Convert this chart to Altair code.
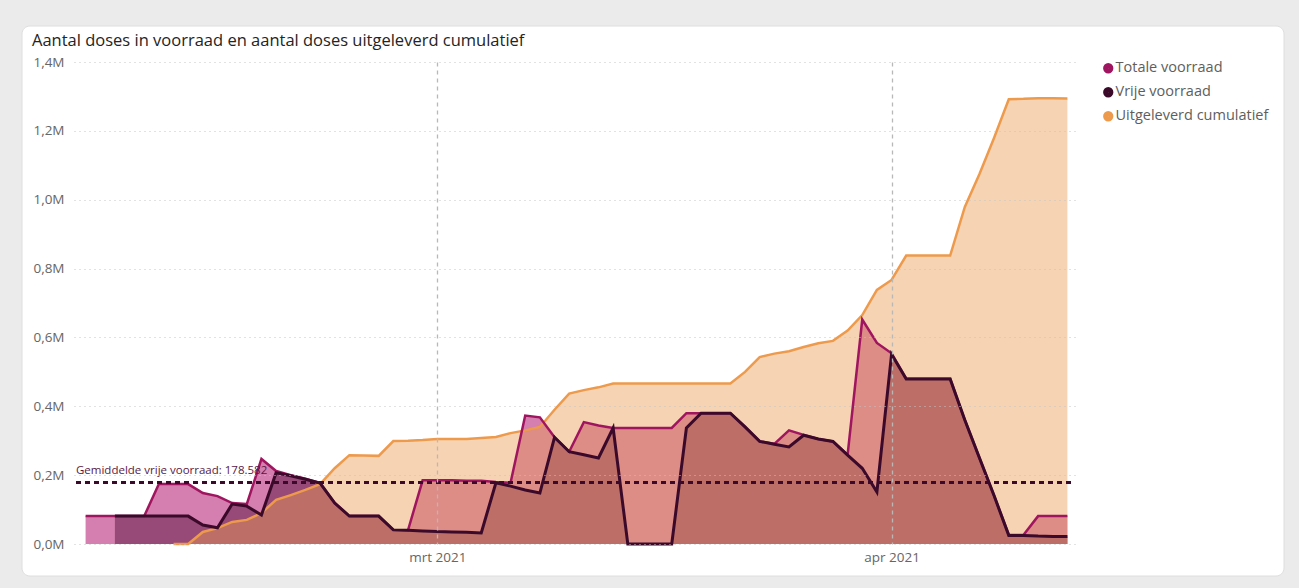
import altair as alt
import pandas as pd

# ---- data (values in millions of doses) ----
dates = pd.date_range("2021-02-05", "2021-04-13", freq="D").strftime("%Y-%m-%d").tolist()

totale = [0.081, 0.081, 0.081, 0.081, 0.081, 0.174, 0.174, 0.174, 0.148, 0.139,
          0.119, 0.116, 0.247, 0.212, 0.200, 0.190, 0.177, 0.119, 0.081, 0.081,
          0.081, 0.041, 0.040, 0.185, 0.185, 0.185, 0.184, 0.184, 0.180, 0.178,
          0.373, 0.368, 0.310, 0.268, 0.354, 0.344, 0.337, 0.337, 0.337, 0.337,
          0.337, 0.380, 0.380, 0.380, 0.380, 0.340, 0.298, 0.291, 0.330, 0.317,
          0.305, 0.298, 0.259, 0.652, 0.584, 0.554, 0.480, 0.480, 0.480, 0.480,
          0.360, 0.250, 0.140, 0.026, 0.026, 0.081, 0.081, 0.081]

vrije = [None, None, 0.081, 0.081, 0.081, 0.081, 0.081, 0.081, 0.055, 0.047,
         0.116, 0.110, 0.084, 0.207, 0.198, 0.188, 0.177, 0.119, 0.081, 0.081,
         0.081, 0.041, 0.040, 0.038, 0.036, 0.035, 0.034, 0.032, 0.178, 0.168,
         0.157, 0.148, 0.310, 0.268, 0.259, 0.250, 0.337, 0.0, 0.0, 0.0,
         0.0, 0.337, 0.380, 0.380, 0.380, 0.340, 0.298, 0.290, 0.282, 0.316,
         0.305, 0.298, 0.258, 0.220, 0.151, 0.551, 0.479, 0.479, 0.479, 0.479,
         0.360, 0.250, 0.140, 0.025, 0.025, 0.023, 0.022, 0.022]

uitgeleverd = [None, None, None, None, None, None, 0.0, 0.0, 0.035, 0.046,
               0.064, 0.070, 0.090, 0.128, 0.142, 0.157, 0.174, 0.220, 0.258, 0.257,
               0.256, 0.299, 0.300, 0.302, 0.305, 0.305, 0.305, 0.308, 0.311, 0.322,
               0.330, 0.340, 0.390, 0.437, 0.447, 0.455, 0.466, 0.466, 0.466, 0.466,
               0.466, 0.466, 0.466, 0.466, 0.466, 0.500, 0.543, 0.553, 0.560, 0.572,
               0.583, 0.590, 0.620, 0.665, 0.738, 0.767, 0.838, 0.838, 0.838, 0.838,
               0.979, 1.075, 1.180, 1.292, 1.293, 1.295, 1.295, 1.294]

avg_vrije = 178582

series_names = ["Totale voorraad", "Vrije voorraad", "Uitgeleverd cumulatief"]
line_colors = ["#a0155f", "#3b0a2a", "#ee9a4d"]
fill_colors = ["#a9005f", "#43002a", "#eb9e54"]
fill_opacity = [0.5, 0.42, 0.45]

y_ticks = [0, 200000, 400000, 600000, 800000, 1000000, 1200000, 1400000]
title_text = "Aantal doses in voorraad en aantal doses uitgeleverd cumulatief"
avg_label = "Gemiddelde vrije voorraad: " + f"{avg_vrije:,}".replace(",", ".")

rows = []
for name, vals in zip(series_names, [totale, vrije, uitgeleverd]):
    for d, v in zip(dates, vals):
        if v is not None:
            rows.append({"date": d, "series": name, "value": v * 1e6})
df = pd.DataFrame(rows)

FONT = "Open Sans"
W, H = 1005, 482
PAD = {"left": 74, "top": 62, "right": 220, "bottom": 44}

x_enc = alt.X(
    "date:T",
    scale=alt.Scale(
        type="utc",
        domain=[alt.DateTime(year=2021, month=2, date=4, hours=5, utc=True),
                alt.DateTime(year=2021, month=4, date=13, hours=19, utc=True)],
    ),
    axis=alt.Axis(
        values=[alt.DateTime(year=2021, month=3, date=1, utc=True),
                alt.DateTime(year=2021, month=4, date=1, utc=True)],
        labelExpr="['jan','feb','mrt','apr','mei','jun','jul','aug','sep','okt','nov','dec'][utcmonth(datum.value)] + ' ' + utcyear(datum.value)",
        grid=True, gridDash=[4, 4], gridColor="#b8b8b8", gridWidth=1.3,
        domain=False, ticks=False, title=None, labelFontSize=13.5,
        labelColor="#666666", labelPadding=6, labelFont=FONT, zindex=1,
    ),
)
y_enc = alt.Y(
    "value:Q",
    scale=alt.Scale(domain=[0, 1400000], nice=False),
    axis=alt.Axis(
        values=y_ticks,
        labelExpr="replace(format(datum.value/1000000, '.1f'), '.', ',') + 'M'",
        grid=True, gridDash=[1, 4], gridColor="#c4c4c4", gridWidth=1,
        domain=False, ticks=False, title=None, labelFontSize=13.5,
        labelColor="#666666", labelPadding=10, labelFont=FONT, zindex=1,
    ),
)

one = pd.DataFrame({"v": [avg_vrije]})

card = alt.Chart(one).mark_rect(color="white", cornerRadius=8, stroke="#dedede", strokeWidth=1).encode(
    x=alt.value(-52), x2=alt.value(1210), y=alt.value(-36), y2=alt.value(514)
)

base = alt.Chart(df)

areas = []
for name, fc, op in zip(series_names, fill_colors, fill_opacity):
    areas.append(
        base.transform_filter(alt.datum.series == name)
        .mark_area(color=fc, opacity=op, interpolate="linear")
        .encode(x=x_enc, y=y_enc)
    )

color_enc = alt.Color(
    "series:N",
    scale=alt.Scale(domain=series_names, range=line_colors),
    legend=alt.Legend(
        title=None, orient="none", legendX=1027, legendY=-1,
        symbolType="circle", symbolSize=28, symbolStrokeWidth=5,
        labelFontSize=14.5, labelColor="#605e5c", labelFont=FONT,
        rowPadding=-2, labelOffset=0,
    ),
)

lines = []
for name, w in [("Uitgeleverd cumulatief", 2.5), ("Totale voorraad", 2.5), ("Vrije voorraad", 3)]:
    lines.append(
        base.transform_filter(alt.datum.series == name)
        .mark_line(strokeWidth=w, interpolate="linear")
        .encode(x="date:T", y="value:Q", color=color_enc)
    )

avg_rule = alt.Chart(one).mark_rule(color="#3b0a2a", strokeWidth=3, strokeDash=[5, 4]).encode(
    y="v:Q", x=alt.value(2), x2=alt.value(1001)
)
avg_text = alt.Chart(one).mark_text(
    align="left", baseline="alphabetic", fontSize=11.5, font=FONT, color="#5a1846", dy=-9
).encode(y="v:Q", x=alt.value(2), text=alt.value(avg_label))

title = alt.Chart(one).mark_text(
    align="left", baseline="alphabetic", fontSize=16.5, font=FONT, color="#252423"
).encode(x=alt.value(-42), y=alt.value(-16), text=alt.value(title_text))

chart = alt.layer(card, *areas, *lines, avg_rule, avg_text, title).properties(
    width=W, height=H, padding=PAD, autosize=alt.AutoSizeParams(type="none"),
    background="#ebebeb",
).configure_view(stroke=None).configure(font=FONT)

chart.save("out.html", embed_options={"renderer": "svg", "actions": False})
